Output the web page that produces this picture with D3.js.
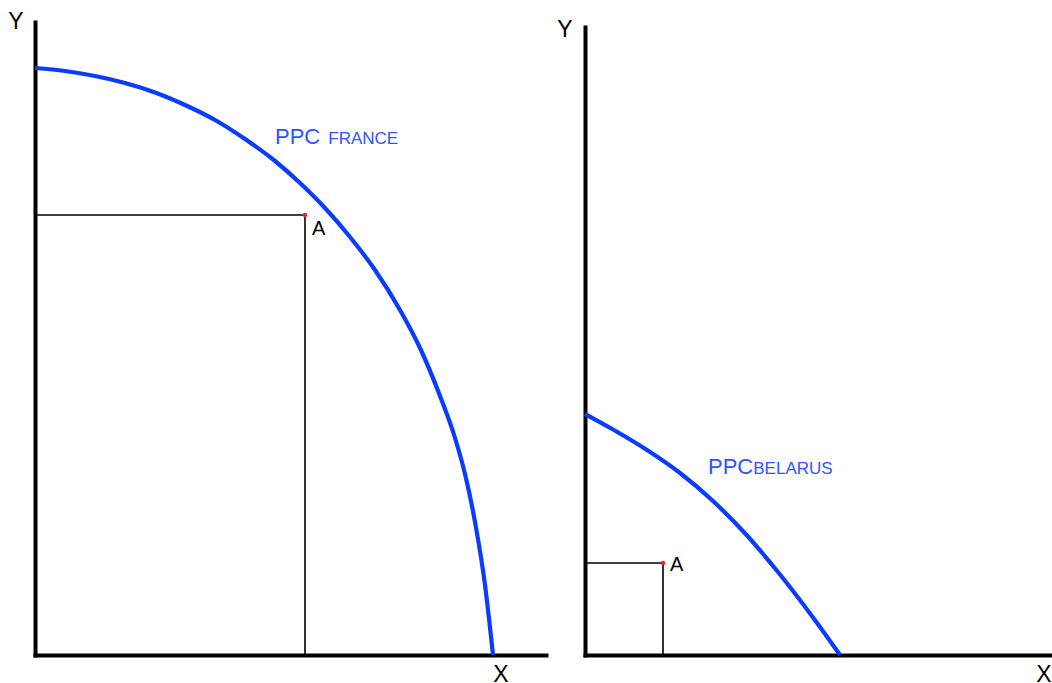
<!DOCTYPE html>
<html>
<head>
<meta charset="utf-8">
<script src="https://cdn.jsdelivr.net/npm/d3@7/dist/d3.min.js"></script>
<style>
  html, body { margin: 0; padding: 0; background: #fff; }
  svg { display: block; }
  text { font-family: "Liberation Sans", Arial, sans-serif; }
</style>
</head>
<body>
<svg id="chart" width="1052" height="683"></svg>
<script>
// Production possibility frontier of France (good X, good Y)
const franceX = [0, 6, 12, 18, 24, 30, 36, 42, 48, 53, 58, 63, 68, 73, 77, 81, 84, 86, 88, 90, 91.6];
const franceY = [117.4, 116.8, 115.8, 114.4, 112.5, 110, 107, 103.2, 98.8, 94.4, 89.4, 83.6, 77, 69, 61.4, 51.8, 43.4, 36.2, 26.6, 14, 0];
// Production possibility frontier of Belarus
const belarusX = [0, 5.6, 12.4, 19, 25.6, 32.4, 39, 45.6, 51];
const belarusY = [48.2, 45.1, 41, 36.4, 30.8, 23.9, 16.1, 7.5, 0];
// Production point A in each economy
const pointA_France = [54, 88];
const pointA_Belarus = [15.6, 18.4];

const svg = d3.select("#chart");
const curveColor = "#0a3cff";
const textColor = "#2e55ff";

function drawPanel(cfg) {
  const x = d3.scaleLinear().domain(cfg.xDomain).range(cfg.xRange);
  const y = d3.scaleLinear().domain(cfg.yDomain).range(cfg.yRange);
  const g = svg.append("g");

  // axes without ticks
  const xAxis = g.append("g")
    .attr("transform", `translate(0,${y(0)})`)
    .call(d3.axisBottom(x).ticks(0).tickSizeOuter(0));
  const yAxis = g.append("g")
    .attr("transform", `translate(${x(0)},0)`)
    .call(d3.axisLeft(y).ticks(0).tickSizeOuter(0));
  [xAxis, yAxis].forEach(a => a.select(".domain")
    .attr("stroke", "#000").attr("stroke-width", 4).attr("stroke-linecap", "square"));

  // guide lines from point A to axes
  const [ax, ay] = cfg.point;
  g.append("path")
    .attr("d", `M${x(0)},${y(ay)}H${x(ax)}V${y(0)}`)
    .attr("fill", "none").attr("stroke", "#000").attr("stroke-width", 1.6);
  g.append("circle")
    .attr("cx", x(ax)).attr("cy", y(ay)).attr("r", 2.2)
    .attr("fill", "#e8231a");
  g.append("text")
    .attr("x", x(ax) + 7).attr("y", y(ay) + cfg.aDy)
    .attr("font-size", 20).attr("fill", "#000").text("A");

  // frontier
  const pts = cfg.xs.map((v, i) => [v, cfg.ys[i]]);
  g.append("path")
    .datum(pts)
    .attr("d", d3.line().x(d => x(d[0])).y(d => y(d[1])).curve(d3.curveMonotoneX))
    .attr("fill", "none").attr("stroke", curveColor).attr("stroke-width", 4.2);

  // frontier label
  const lbl = g.append("text")
    .attr("x", cfg.label.x).attr("y", cfg.label.y)
    .attr("fill", textColor);
  lbl.append("tspan").attr("font-size", 22).text("PPC");
  lbl.append("tspan").attr("font-size", 17).attr("dx", cfg.label.gap).text(cfg.label.name);

  // axis letters
  g.append("text").attr("x", cfg.yLetter[0]).attr("y", cfg.yLetter[1])
    .attr("font-size", 23).attr("text-anchor", "middle").text("Y");
  g.append("text").attr("x", cfg.xLetter[0]).attr("y", cfg.xLetter[1])
    .attr("font-size", 23).attr("text-anchor", "middle").text("X");
}

drawPanel({
  xDomain: [0, 102.2], xRange: [35, 546],
  yDomain: [0, 126.6], yRange: [655, 22],
  xs: franceX, ys: franceY, point: pointA_France, aDy: 20,
  label: { x: 275, y: 144, gap: 8, name: "FRANCE" },
  yLetter: [16, 29], xLetter: [501, 682]
});

drawPanel({
  xDomain: [0, 93.4], xRange: [585, 1052],
  yDomain: [0, 125.6], yRange: [655, 27],
  xs: belarusX, ys: belarusY, point: pointA_Belarus, aDy: 8,
  label: { x: 708, y: 474, gap: 0, name: "BELARUS" },
  yLetter: [565, 37], xLetter: [1044, 682]
});
</script>
</body>
</html>
